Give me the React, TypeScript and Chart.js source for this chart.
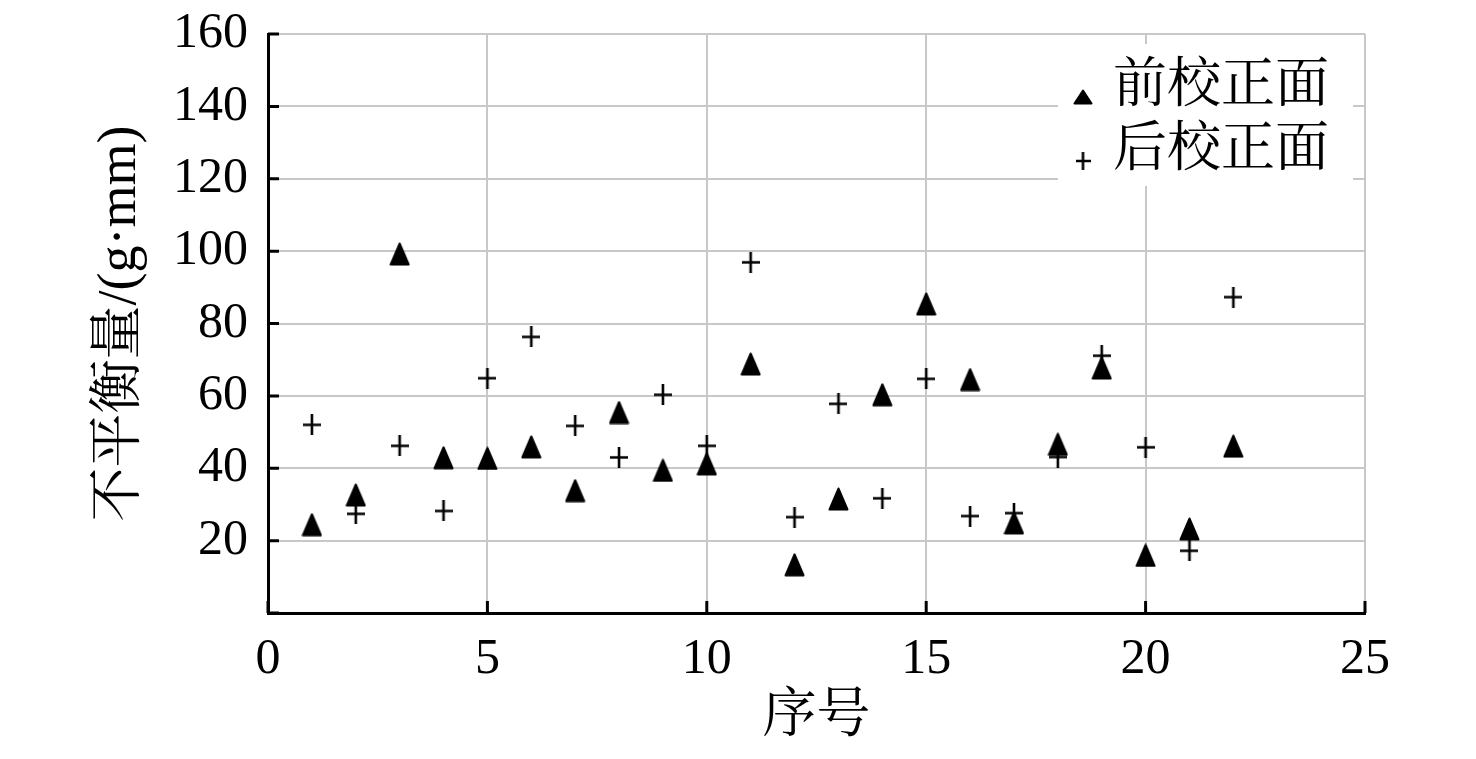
import { useEffect, useRef } from "react";
import { Chart, registerables } from "chart.js";

Chart.register(...registerables);

const SERIF = "'Liberation Serif', 'Noto Serif CJK SC', 'Noto Sans CJK SC', serif";

// 序号 1..22
const INDEXES = [1, 2, 3, 4, 5, 6, 7, 8, 9, 10, 11, 12, 13, 14, 15, 16, 17, 18, 19, 20, 21, 22];
const FRONT = [24.4, 32.6, 99.2, 42.9, 42.7, 45.9, 33.8, 55.4, 39.4, 41.2, 68.8, 13.3, 31.5, 60.3, 85.4, 64.5, 24.9, 46.6, 67.7, 15.9, 23.2, 46.1];
const REAR = [52.0, 27.4, 46.2, 28.2, 64.9, 76.3, 51.7, 43.0, 60.3, 46.2, 96.9, 26.5, 57.8, 31.7, 64.7, 26.8, 27.6, 43.1, 71.1, 45.8, 17.2, 87.3];
const FRONT_LABEL = "前校正面";
const REAR_LABEL = "后校正面";
const X_TICKS = [0, 5, 10, 15, 20, 25];
const Y_TICKS = [0, 20, 40, 60, 80, 100, 120, 140, 160];

function triangleImage(w: number, h: number) {
  const c = document.createElement("canvas");
  c.width = w;
  c.height = h;
  const ctx = c.getContext("2d")!;
  ctx.fillStyle = "#000";
  ctx.strokeStyle = "#000";
  ctx.lineWidth = 2;
  ctx.lineJoin = "round";
  ctx.beginPath();
  ctx.moveTo(w / 2, 1.5);
  ctx.lineTo(w - 1.5, h - 1.5);
  ctx.lineTo(1.5, h - 1.5);
  ctx.closePath();
  ctx.fill();
  ctx.stroke();
  return c;
}

function plusImage(w: number, h: number, lw: number) {
  const c = document.createElement("canvas");
  c.width = w;
  c.height = h;
  const ctx = c.getContext("2d")!;
  ctx.strokeStyle = "#000";
  ctx.lineWidth = lw;
  ctx.beginPath();
  ctx.moveTo(0, h / 2);
  ctx.lineTo(w, h / 2);
  ctx.moveTo(w / 2, 0);
  ctx.lineTo(w / 2, h);
  ctx.stroke();
  return c;
}

export default function App() {
  const canvasRef = useRef<HTMLCanvasElement | null>(null);

  useEffect(() => {
    document.body.style.margin = "0";
    if (!canvasRef.current) return;

    const tri = triangleImage(21, 24);
    const plus = plusImage(18, 21, 2.6);
    const legendTri = triangleImage(20, 16);
    const legendPlus = plusImage(15, 18, 2.6);

    const innerTicks = {
      id: "innerTicks",
      beforeDatasetsDraw(chart: Chart) {
        const { ctx, chartArea } = chart;
        const x = chart.scales.x;
        const y = chart.scales.y;
        ctx.save();
        ctx.strokeStyle = "#000";
        ctx.lineWidth = 3;
        ctx.beginPath();
        for (const v of Y_TICKS) {
          const py = y.getPixelForValue(v);
          ctx.moveTo(chartArea.left, py);
          ctx.lineTo(chartArea.left + 11, py);
        }
        for (const v of X_TICKS) {
          const px = x.getPixelForValue(v);
          ctx.moveTo(px, chartArea.bottom);
          ctx.lineTo(px, chartArea.bottom - 12);
        }
        ctx.stroke();
        ctx.restore();
      },
    };

    const boxLegend = {
      id: "boxLegend",
      afterDraw(chart: Chart) {
        const { ctx, chartArea } = chart;
        const left = chartArea.right - 307;
        const top = chartArea.top + 10;
        ctx.save();
        ctx.fillStyle = "#fff";
        ctx.fillRect(left, top, 295, 142);
        const items = [
          { img: legendTri, label: chart.data.datasets[0].label ?? "", y: top + 44 },
          { img: legendPlus, label: chart.data.datasets[1].label ?? "", y: top + 108 },
        ];
        ctx.font = `54px ${SERIF}`;
        ctx.fillStyle = "#000";
        ctx.textBaseline = "middle";
        ctx.textAlign = "left";
        for (const it of items) {
          ctx.drawImage(it.img, left + 25 - it.img.width / 2, it.y + 9 - it.img.height / 2);
          ctx.fillText(it.label, left + 55, it.y);
        }
        ctx.restore();
      },
    };

    const chart = new Chart(canvasRef.current, {
      type: "scatter",
      data: {
        datasets: [
          {
            label: FRONT_LABEL,
            data: INDEXES.map((n, i) => ({ x: n, y: FRONT[i] })),
            pointStyle: tri,
            pointRadius: 10,
          },
          {
            label: REAR_LABEL,
            data: INDEXES.map((n, i) => ({ x: n, y: REAR[i] })),
            pointStyle: plus,
            pointRadius: 10,
          },
        ],
      },
      options: {
        responsive: false,
        animation: false,
        devicePixelRatio: 1,
        layout: { padding: { left: 0, right: 111, top: 34, bottom: 0 } },
        plugins: {
          legend: { display: false },
          tooltip: { enabled: false },
        },
        scales: {
          x: {
            type: "linear",
            min: 0,
            max: 25,
            afterFit: (scale) => {
              scale.height = 146;
              scale.paddingLeft = 0;
              scale.paddingRight = 0;
            },
            ticks: {
              stepSize: 5,
              padding: 17,
              color: "#000",
              font: { family: SERIF, size: 50 },
            },
            grid: { color: "#c8c8c8", lineWidth: 2, drawTicks: false },
            border: { color: "#000", width: 3 },
            title: {
              display: true,
              text: "序号",
              color: "#000",
              font: { family: SERIF, size: 54 },
              padding: { top: 0, bottom: 9 },
            },
          },
          y: {
            type: "linear",
            min: 0,
            max: 160,
            afterFit: (scale) => {
              scale.width = 268;
              scale.paddingTop = 0;
              scale.paddingBottom = 0;
            },
            ticks: {
              stepSize: 20,
              padding: 20,
              color: "#000",
              font: { family: SERIF, size: 50 },
              callback: (v) => (Number(v) === 0 ? "" : String(v)),
            },
            grid: { color: "#c8c8c8", lineWidth: 2, drawTicks: false },
            border: { color: "#000", width: 3 },
            title: {
              display: true,
              text: "不平衡量/(g·mm)",
              color: "#000",
              font: { family: SERIF, size: 54 },
              padding: { top: 88, bottom: 0 },
            },
          },
        },
      },
      plugins: [innerTicks, boxLegend],
    });

    return () => chart.destroy();
  }, []);

  return (
    <div style={{ width: 1476, height: 759, background: "#fff" }}>
      <canvas ref={canvasRef} width={1476} height={759} />
    </div>
  );
}
